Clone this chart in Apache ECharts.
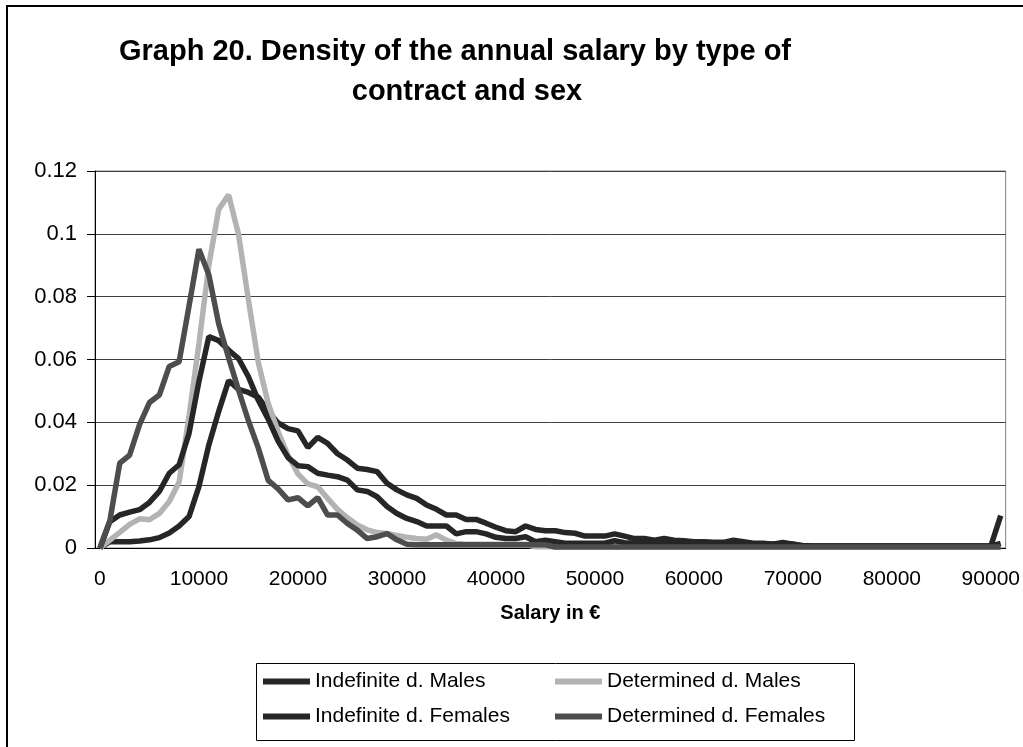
<!DOCTYPE html>
<html>
<head>
<meta charset="utf-8">
<script src="https://cdn.jsdelivr.net/npm/echarts@6/dist/echarts.min.js"></script>
<style>
  html, body { margin: 0; padding: 0; background: #fff; }
  #chart { width: 1023px; height: 747px; }
</style>
</head>
<body>
<div id="chart"></div>
<script>
var chartDom = document.getElementById('chart');
var myChart = echarts.init(chartDom);

// salary categories: 0, 1000, ... 91000
var salaries = [];
for (var s = 0; s <= 91000; s += 1000) salaries.push(String(s));

var seriesNames = ['Indefinite d. Males', 'Determined d. Males', 'Indefinite d. Females', 'Determined d. Females'];
var titleLines = ['Graph 20. Density of the annual salary by type of', 'contract and sex'];

var indefMales = [
  0, 0.002, 0.002, 0.002, 0.0022, 0.0026, 0.0033, 0.0048, 0.007, 0.0100,
  0.0195, 0.0328, 0.0435, 0.0533, 0.0505, 0.0495, 0.048, 0.0435, 0.0398, 0.038,
  0.0373, 0.032, 0.0352, 0.0333, 0.030, 0.028, 0.0254, 0.025, 0.0243, 0.0206,
  0.0185, 0.0169, 0.0158, 0.0137, 0.0123, 0.0105, 0.0105, 0.0091, 0.0091, 0.0079,
  0.0066, 0.0055, 0.0052, 0.007, 0.0059, 0.0055, 0.0055, 0.0049, 0.0047, 0.0038,
  0.0038, 0.0038, 0.0045, 0.0038, 0.003, 0.003, 0.0025, 0.003, 0.0025, 0.0023,
  0.002, 0.002, 0.0018, 0.0018, 0.0025, 0.002, 0.0015, 0.0015, 0.0012, 0.0018,
  0.0012, 0.0008, 0.0006, 0.0006, 0.0006, 0.0006, 0.0006, 0.0006, 0.0006, 0.0006,
  0.0006, 0.0006, 0.0006, 0.0006, 0.0006, 0.0006, 0.0006, 0.0006, 0.0006, 0.0006,
  0.0006, 0.0103
];

var detMales = [
  0, 0.0025, 0.005, 0.0075, 0.0093, 0.009, 0.011, 0.0148, 0.021, 0.042,
  0.065, 0.09, 0.1078, 0.1124, 0.0998, 0.079, 0.059, 0.046, 0.037, 0.0295,
  0.0236, 0.0204, 0.0195, 0.0158, 0.0123, 0.0096, 0.0073, 0.0058, 0.0049, 0.0046,
  0.004, 0.0034, 0.003, 0.0028, 0.0042, 0.0025, 0.0014, 0.0012, 0.0012, 0.0012,
  0.0012, 0.0012, 0.0012, 0.0012, 0.0004, 0.0004, 0.0004, 0.0004, 0.0004, 0.0004,
  0.0004, 0.0004, 0.0004, 0.0004, 0.0004, 0.0004, 0.0004, 0.0004, 0.0004, 0.0004,
  0.0004, 0.0004, 0.0004, 0.0004, 0.0004, 0.0004, 0.0004, 0.0004, 0.0004, 0.0004,
  0.0004, 0.0004, 0.0004, 0.0004, 0.0004, 0.0004, 0.0004, 0.0004, 0.0004, 0.0004,
  0.0004, 0.0004, 0.0004, 0.0004, 0.0004, 0.0004, 0.0004, 0.0004, 0.0004, 0.0004,
  0.0004, 0.0004
];

var indefFemales = [
  0, 0.0084, 0.0105, 0.0114, 0.0122, 0.0145, 0.018, 0.0238, 0.0265, 0.0365,
  0.053, 0.0673, 0.066, 0.063, 0.0603, 0.0545, 0.047, 0.041, 0.034, 0.0288,
  0.0262, 0.0259, 0.0238, 0.0232, 0.0227, 0.0216, 0.0185, 0.018, 0.0163, 0.0132,
  0.011, 0.0094, 0.0084, 0.007, 0.007, 0.007, 0.0045, 0.0052, 0.0052, 0.0045,
  0.0034, 0.003, 0.003, 0.0036, 0.002, 0.0025, 0.002, 0.0015, 0.0015, 0.0015,
  0.0015, 0.0015, 0.0023, 0.0017, 0.0016, 0.0016, 0.0016, 0.0016, 0.0016, 0.0016,
  0.0016, 0.0013, 0.0013, 0.0013, 0.0013, 0.0013, 0.0013, 0.0013, 0.0013, 0.0013,
  0.0013, 0.0006, 0.0006, 0.0006, 0.0006, 0.0006, 0.0006, 0.0006, 0.0006, 0.0006,
  0.0006, 0.0006, 0.0006, 0.0006, 0.0006, 0.0006, 0.0006, 0.0006, 0.0006, 0.0006,
  0.0006, 0.0015
];

var detFemales = [
  0, 0.0087, 0.027, 0.0296, 0.0393, 0.0463, 0.0487, 0.0578, 0.0593, 0.077,
  0.0951, 0.087, 0.0713, 0.0605, 0.0503, 0.0405, 0.0318, 0.0215, 0.0188, 0.0153,
  0.016, 0.0134, 0.016, 0.0105, 0.0105, 0.0078, 0.0057, 0.003, 0.0036, 0.0046,
  0.0026, 0.0012, 0.001, 0.001, 0.001, 0.001, 0.001, 0.001, 0.001, 0.001,
  0.001, 0.001, 0.001, 0.001, 0.001, 0.001, 0.0003, 0.0003, 0.0003, 0.0003,
  0.0003, 0.0003, 0.0003, 0.0003, 0.0003, 0.0003, 0.0003, 0.0003, 0.0003, 0.0003,
  0.0003, 0.0003, 0.0003, 0.0003, 0.0003, 0.0003, 0.0003, 0.0003, 0.0003, 0.0003,
  0.0003, 0.0003, 0.0003, 0.0003, 0.0003, 0.0003, 0.0003, 0.0003, 0.0003, 0.0003,
  0.0003, 0.0003, 0.0003, 0.0003, 0.0003, 0.0003, 0.0003, 0.0003, 0.0003, 0.0003,
  0.0003, 0.0003
];

var lineColors = ['#262626', '#b3b3b3', '#262626', '#4d4d4d'];
var font = 'Liberation Sans, Arial, sans-serif';

function makeLine(name, data, color) {
    return {
        name: name,
        type: 'line',
        data: data,
        symbol: 'none',
        lineStyle: { color: color, width: 5.5 },
        itemStyle: { color: color },
        emphasis: { disabled: true },
        animation: false
    };
}

var titleStyle = {
    fontFamily: font,
    fontSize: 29,
    fontWeight: 'bold',
    color: '#000'
};

var option = {
    textStyle: { fontFamily: font },
    title: [
        { text: titleLines[0], left: 455, top: 37, padding: 0, textAlign: 'center', textStyle: titleStyle },
        { text: titleLines[1], left: 467, top: 77, padding: 0, textAlign: 'center', textStyle: titleStyle }
    ],
    legend: [
        {
            data: [seriesNames[0], seriesNames[2]],
            orient: 'vertical',
            left: 263,
            top: 671,
            padding: 0,
            itemGap: 14,
            itemWidth: 47,
            itemHeight: 6,
            icon: 'rect',
            textStyle: { fontFamily: font, fontSize: 21, color: '#000' }
        },
        {
            data: [seriesNames[1], seriesNames[3]],
            orient: 'vertical',
            left: 555,
            top: 671,
            padding: 0,
            itemGap: 14,
            itemWidth: 47,
            itemHeight: 6,
            icon: 'rect',
            textStyle: { fontFamily: font, fontSize: 21, color: '#000' }
        }
    ],
    grid: {
        left: 95,
        right: 16,
        top: 171,
        bottom: 199,
        show: true,
        borderColor: '#808080',
        borderWidth: 1,
        containLabel: false
    },
    xAxis: {
        type: 'category',
        data: salaries,
        boundaryGap: true,
        name: 'Salary in €',
        nameLocation: 'middle',
        nameGap: 55,
        nameTextStyle: { fontFamily: font, fontSize: 20, fontWeight: 'bold', color: '#000' },
        axisLine: { lineStyle: { color: '#000', width: 1 } },
        axisTick: { interval: 9, length: 6, lineStyle: { color: '#000' } },
        axisLabel: { interval: 9, margin: 21, fontFamily: font, fontSize: 21, color: '#000' },
        splitLine: { show: false }
    },
    yAxis: {
        type: 'value',
        min: 0,
        max: 0.12,
        interval: 0.02,
        axisLine: { show: true, lineStyle: { color: '#000', width: 1 } },
        axisTick: { show: true, length: 8, lineStyle: { color: '#000' } },
        axisLabel: { margin: 18, fontFamily: font, fontSize: 22, color: '#000' },
        splitLine: { lineStyle: { color: '#404040', width: 1 } }
    },
    series: [
        makeLine(seriesNames[0], indefMales, lineColors[0]),
        makeLine(seriesNames[1], detMales, lineColors[1]),
        makeLine(seriesNames[2], indefFemales, lineColors[2]),
        makeLine(seriesNames[3], detFemales, lineColors[3])
    ],
    graphic: [
        {
            type: 'rect',
            shape: { x: 7, y: 6, width: 1040, height: 770 },
            style: { fill: 'none', stroke: '#000', lineWidth: 2 },
            silent: true
        },
        {
            type: 'rect',
            shape: { x: 256.5, y: 663.5, width: 598, height: 77 },
            style: { fill: 'none', stroke: '#000', lineWidth: 1 },
            silent: true
        }
    ],
    animation: false
};

myChart.setOption(option);

window.addEventListener('resize', function() {
    myChart.resize();
});
</script>
</body>
</html>
